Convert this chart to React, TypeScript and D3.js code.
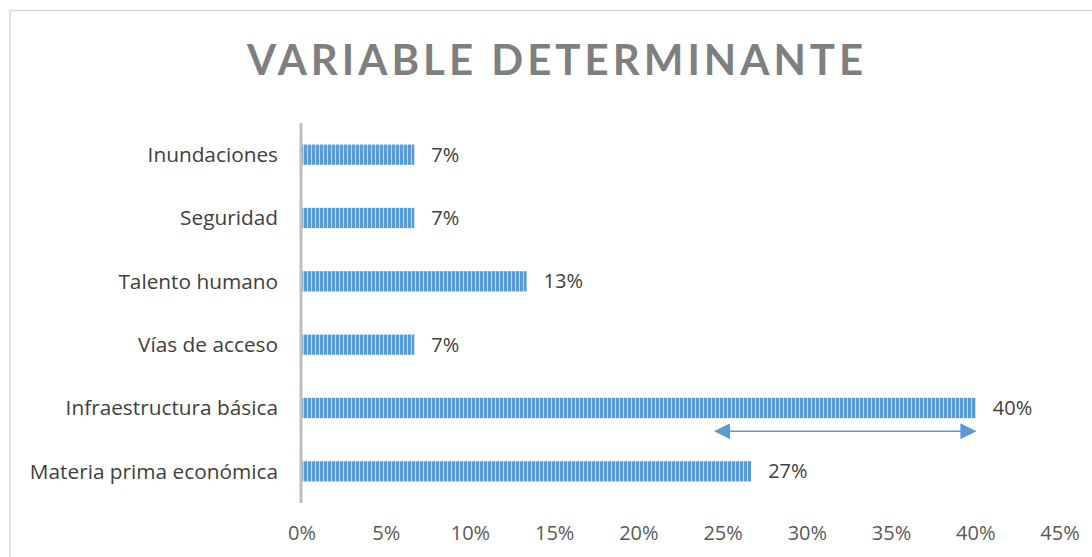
import * as d3 from 'd3'
import * as React from 'react'

const categories = [
  'Inundaciones',
  'Seguridad',
  'Talento humano',
  'Vías de acceso',
  'Infraestructura básica',
  'Materia prima económica',
]
const shares = [1 / 15, 1 / 15, 2 / 15, 1 / 15, 6 / 15, 4 / 15]
const tickValues = [0, 0.05, 0.1, 0.15, 0.2, 0.25, 0.3, 0.35, 0.4, 0.45]
const arrowSpan = [0.245, 0.4]

const W = 1092
const H = 557
const TITLE_FONT = 'Lato, "Open Sans", sans-serif'
const FONT = '"Open Sans", Lato, sans-serif'

export default function App() {
  const x = d3.scaleLinear().domain([0, 0.45]).range([302, 1060])
  const y = d3.scaleBand<string>().domain(categories).range([123, 503]).paddingInner(0.68).paddingOuter(0.34)
  const pct = d3.format('.0%')
  // arrow sits in the gap between the two bottom bars
  const arrowY = y('Materia prima económica')! - 30

  return (
    <svg width={W} height={H} style={{ position: 'absolute', left: 0, top: 0, background: '#fff' }}>
      <defs>
        <pattern id="stripes" width={4} height={4} patternUnits="userSpaceOnUse">
          <rect width={4} height={4} fill="#5b9bd5" />
          <rect x={3} width={1} height={4} fill="#bcd7f0" />
        </pattern>
        <marker id="head" viewBox="0 0 10 10" refX={9} refY={5} markerWidth={16} markerHeight={16} markerUnits="userSpaceOnUse" orient="auto-start-reverse">
          <path d="M0,0 L10,5 L0,10 Z" fill="#5b9bd5" />
        </marker>
      </defs>

      {/* chart border, runs off the right and bottom edges */}
      <rect x={10} y={10.5} width={W + 20} height={H + 20} fill="none" stroke="#d9d9d9" strokeWidth={1.5} />

      <text x={557} y={75} textAnchor="middle" fontFamily={TITLE_FONT} fontWeight="bold" fontSize={42} letterSpacing={4} fill="#7f7f7f">
        VARIABLE DETERMINANTE
      </text>

      {/* bars */}
      {categories.map((c, i) => (
        <g key={c}>
          <rect x={x(0)} y={y(c)!} width={x(shares[i]) - x(0)} height={y.bandwidth()} fill="url(#stripes)" />
          <text x={x(shares[i]) + 17} y={y(c)! + y.bandwidth() / 2} dy="0.35em" fontFamily={FONT} fontSize={20} fill="#404040">
            {pct(shares[i])}
          </text>
          <text x={278} y={y(c)! + y.bandwidth() / 2} dy="0.35em" textAnchor="end" fontFamily={FONT} fontSize={20.8} fill="#404040">
            {c}
          </text>
        </g>
      ))}

      {/* category axis */}
      <line x1={301} x2={301} y1={123} y2={503} stroke="#bfbfbf" strokeWidth={3} />

      {/* value axis labels */}
      {tickValues.map(t => (
        <text key={t} x={x(t)} y={540} textAnchor="middle" fontFamily={FONT} fontSize={20} fill="#595959">
          {pct(t)}
        </text>
      ))}

      {/* double-headed arrow */}
      <line
        x1={x(arrowSpan[0]) + 1}
        x2={x(arrowSpan[1]) - 1}
        y1={arrowY}
        y2={arrowY}
        stroke="#5b9bd5"
        strokeWidth={1.5}
        markerStart="url(#head)"
        markerEnd="url(#head)"
      />
    </svg>
  )
}
